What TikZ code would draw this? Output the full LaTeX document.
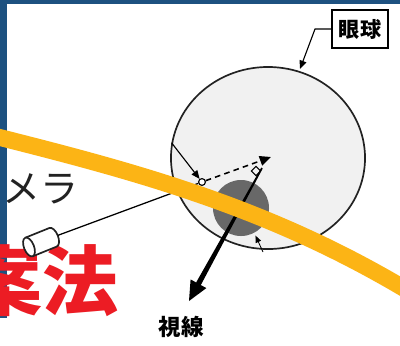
\documentclass[tikz,border=0pt]{standalone}
\usepackage{fontspec}
\newfontfamily\jp{Noto Sans CJK JP}
\usetikzlibrary{arrows.meta,shapes.geometric,calc}
\definecolor{frameblue}{HTML}{1D5180}
\definecolor{bandorange}{HTML}{FCB415}
\definecolor{eyegray}{HTML}{F1F1F1}
\definecolor{pupilgray}{HTML}{686868}
\definecolor{titlered}{HTML}{EC1C24}
\definecolor{inkblack}{HTML}{222222}
\begin{document}
\begin{tikzpicture}[x=0.025cm,y=-0.025cm,
  outline/.style={draw=inkblack,line width=1.2pt},
  thinarrow/.style={draw=black,line width=0.8pt,-{Triangle[length=6pt,width=5pt]}},
  labelbox/.style={draw=black,line width=1.4pt,fill=white,inner sep=0pt,
    minimum width=1.4cm,minimum height=0.97cm,font=\jp\bfseries\fontsize{15}{15}\selectfont},
  bigtext/.style={inner sep=0pt,font=\jp}]
\useasboundingbox (0,0) rectangle (400,345);
\clip (0,0) rectangle (400,345);
\fill[white] (0,0) rectangle (400,345);

% camera caption, partly hidden by the frame
\node[bigtext,anchor=east,text=inkblack,font=\jp\fontsize{27}{27}\selectfont] (camcap) at (79,188) {カメラ};

% frame
\fill[frameblue] (0,0) rectangle (400,4);
\fill[frameblue] (0,0) rectangle (7,318);

% red heading
\node[bigtext,anchor=east,text=titlered,font=\jp\bfseries\fontsize{54}{54}\selectfont] (head) at (119,281) {案法};

% eyeball and pupil
\node[outline,fill=eyegray,ellipse,minimum width=4.85cm,minimum height=4.55cm,inner sep=0pt] (eye) at (268,158) {};
\node[fill=pupilgray,circle,minimum size=1.4cm,inner sep=0pt] (pupil) at (241,208) {};

% glint and rotation centre
\node[draw=black,fill=white,circle,line width=0.8pt,minimum size=0.17cm,inner sep=0pt] (glint) at (202,182) {};
\node[draw=black,fill=eyegray,diamond,line width=0.7pt,minimum size=0.24cm,inner sep=0pt] (centre) at (256,171) {};
\coordinate (dashtip) at (271,157);

% camera
\begin{scope}[shift={(29,247)},rotate=22]
  \fill[white] (0,-10) -- (26,-10) arc[start angle=-90,end angle=90,x radius=5,y radius=10] -- (0,10) -- cycle;
  \draw[outline] (0,-10) -- (26,-10) arc[start angle=-90,end angle=90,x radius=5,y radius=10] -- (0,10);
  \draw[outline,fill=white] (0,0) ellipse[x radius=5,y radius=10];
  \coordinate (camtip) at (31,0);
\end{scope}
\draw[draw=black,line width=0.9pt] (camtip) -- (glint);

% reflection ray and corneal arrow
\draw[thinarrow] (eye.171) -- (glint);
\draw[draw=black,line width=1.1pt,dash pattern=on 4pt off 3pt,-{Triangle[length=8pt,width=7pt]}] (glint) -- (dashtip);

% small arrow under the pupil
\coordinate (pupilfoot) at (263,252);
\draw[draw=black,line width=0.6pt,-{Triangle[length=5pt,width=4pt]},shorten >=2pt] (pupilfoot) -- (pupil.-62);

% gaze direction, tapered
\coordinate (gs) at (262,168);
\coordinate (gt) at (189,301);
\coordinate (gb) at ($(gt)!14pt!(gs)$);
\fill[black] ($(gs)!0.6pt!90:(gt)$) -- ($(gb)!1.9pt!-90:(gs)$) -- ($(gb)!6.4pt!-90:(gs)$) -- (gt)
  -- ($(gb)!6.4pt!90:(gs)$) -- ($(gb)!1.9pt!90:(gs)$) -- ($(gs)!0.6pt!-90:(gt)$) -- cycle;
\node[inner sep=0pt,font=\jp\bfseries\fontsize{16}{16}\selectfont] (gazelbl) at (181,327) {視線};

% eyeball label
\node[labelbox] (eyelbl) at (360,29) {眼球};
\coordinate (bend) at (315,29);
\coordinate (eyetop) at (300,69);
\draw[thinarrow] (eyelbl.west) -- (bend) -- (eyetop);

% highlighter band
\draw[bandorange,line width=12pt] (-10,135) .. controls (133,171) and (267,206) .. (410,292);
\end{tikzpicture}
\end{document}
